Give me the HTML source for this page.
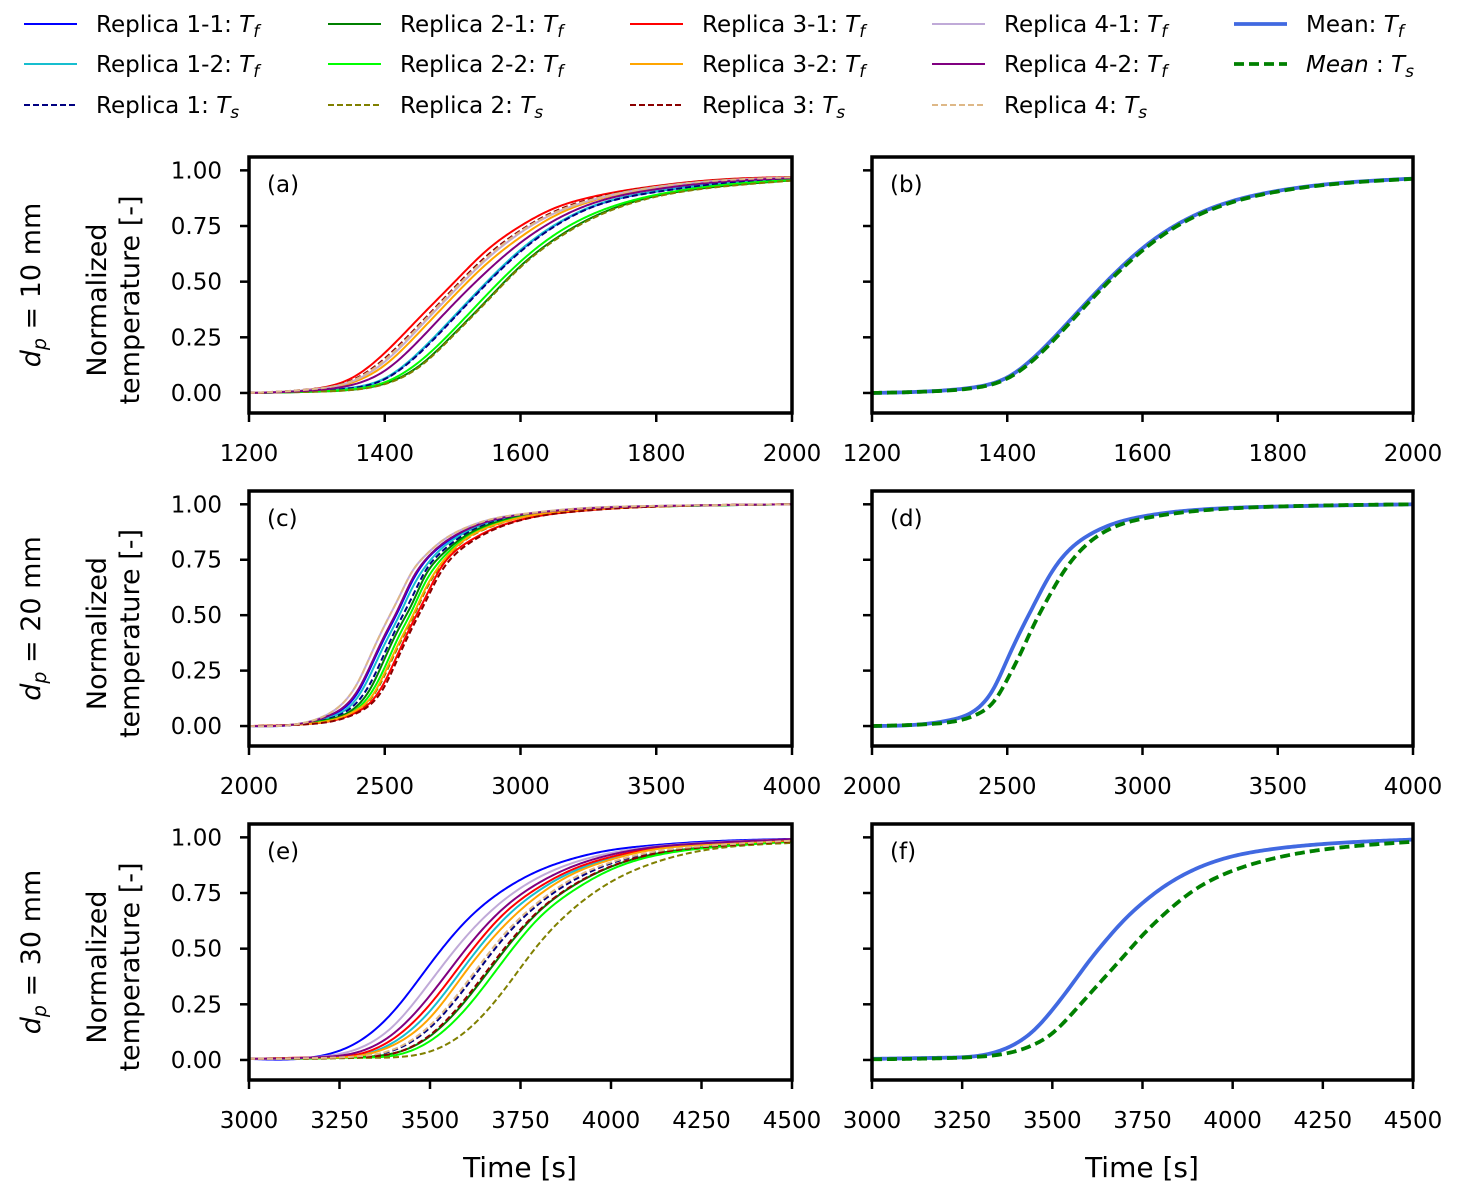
<!DOCTYPE html>
<html><head><meta charset="utf-8"><style>
body{margin:0;background:#fff}
svg{display:block;font-family:"DejaVu Sans","Liberation Sans",sans-serif}
</style></head><body>
<svg id="fig" width="1457" height="1196" viewBox="0 0 1457 1196" xmlns="http://www.w3.org/2000/svg"></svg>
<script>
// ---------- DATA ----------
const tGridA = [1200,1300,1350,1400,1450,1500,1550,1600,1650,1700,1800,1900,2000];
const a_r11 = [0,.009,.022,.064,.18,.335,.495,.64,.752,.83,.905,.943,.962];
const a_r12 = [0,.009,.023,.066,.182,.338,.498,.643,.754,.832,.906,.944,.962];
const a_r1s = [0,.009,.021,.062,.175,.33,.49,.635,.748,.828,.903,.942,.961];
const a_r21 = [0,.006,.014,.042,.12,.26,.415,.57,.69,.78,.885,.93,.955];
const a_r22 = [0,.007,.016,.048,.138,.28,.44,.59,.71,.795,.89,.935,.957];
const a_r2s = [0,.006,.013,.04,.115,.255,.41,.565,.685,.775,.882,.928,.954];
const a_r31 = [0,.02,.065,.18,.335,.49,.64,.75,.83,.877,.93,.96,.97];
const a_r32 = [0,.016,.045,.125,.27,.43,.58,.70,.795,.857,.922,.953,.967];
const a_r3s = [0,.02,.055,.155,.305,.465,.615,.73,.815,.868,.928,.958,.97];
const a_r41 = [0,.018,.05,.14,.29,.45,.60,.72,.807,.862,.925,.955,.968];
const a_r42 = [0,.013,.035,.10,.235,.395,.545,.675,.775,.845,.915,.95,.965];
const a_r4s = [0,.019,.052,.148,.298,.458,.607,.725,.81,.864,.926,.956,.969];
const b_meanTf = [0,.01,.025,.07,.19,.35,.51,.65,.755,.828,.908,.945,.963];
const b_meanTs = [0,.009,.022,.065,.18,.34,.50,.64,.748,.822,.905,.943,.962];

const tGridC = [2000,2200,2300,2400,2450,2500,2550,2600,2650,2700,2800,2900,3000,3200,3500,4000];
const c_r11 = [0,.012,.048,.15,.27,.40,.52,.65,.745,.805,.882,.928,.952,.978,.992,1];
const c_r12 = [0,.011,.04,.13,.24,.37,.49,.62,.72,.79,.875,.925,.95,.977,.991,1];
const c_r1s = [0,.01,.035,.11,.20,.33,.46,.58,.70,.775,.868,.92,.948,.976,.991,1];
const c_r21 = [0,.01,.031,.093,.175,.305,.435,.55,.68,.76,.86,.915,.945,.975,.99,1];
const c_r22 = [0,.009,.027,.08,.15,.265,.40,.52,.65,.74,.85,.908,.942,.973,.99,1];
const c_r2s = [0,.008,.024,.072,.125,.23,.36,.48,.61,.715,.842,.903,.94,.972,.99,1];
const c_r31 = [0,.008,.022,.065,.11,.20,.33,.46,.58,.70,.825,.89,.93,.968,.99,1];
const c_r32 = [0,.008,.025,.075,.13,.24,.37,.49,.62,.72,.845,.905,.94,.972,.99,1];
const c_r3s = [0,.007,.02,.06,.10,.18,.31,.44,.56,.68,.815,.885,.928,.967,.99,1];
const c_r41 = [0,.014,.06,.195,.325,.455,.575,.695,.77,.825,.895,.935,.955,.98,.993,1];
const c_r42 = [0,.013,.05,.16,.28,.41,.53,.66,.75,.81,.885,.93,.953,.978,.992,1];
const c_r4s = [0,.014,.06,.195,.325,.455,.575,.695,.77,.825,.895,.935,.955,.98,.993,1];
const d_meanTf = [0,.01,.03,.09,.17,.30,.43,.55,.665,.755,.86,.915,.945,.975,.99,1];
const d_meanTs = [0,.008,.02,.06,.11,.21,.33,.46,.575,.68,.825,.90,.935,.97,.99,1];

const tGridE = [3000,3200,3300,3400,3500,3600,3700,3800,3900,4000,4100,4250,4500];
const e_r11 = [.005,.019,.08,.22,.43,.625,.76,.85,.907,.943,.962,.98,.993];
const e_r12 = [.005,.01,.019,.08,.22,.43,.625,.76,.85,.905,.942,.968,.988];
const e_r1s = [.005,.009,.015,.044,.145,.33,.54,.70,.81,.883,.927,.958,.984];
const e_r21 = [.005,.008,.013,.03,.107,.27,.48,.665,.787,.868,.918,.954,.982];
const e_r22 = [.005,.007,.011,.02,.085,.232,.44,.636,.765,.855,.91,.95,.98];
const e_r2s = [.005,.006,.009,.012,.038,.13,.305,.52,.685,.80,.875,.94,.975];
const e_r31 = [.005,.012,.025,.097,.25,.46,.65,.775,.86,.912,.946,.97,.985];
const e_r32 = [.005,.01,.018,.068,.19,.40,.595,.74,.84,.90,.94,.966,.987];
const e_r3s = [.005,.008,.013,.03,.112,.28,.49,.67,.79,.87,.92,.955,.982];
const e_r41 = [.005,.015,.05,.155,.35,.555,.713,.82,.888,.93,.955,.975,.992];
const e_r42 = [.005,.013,.035,.12,.29,.50,.677,.795,.873,.922,.952,.973,.992];
const e_r4s = [.005,.009,.016,.048,.155,.345,.555,.71,.82,.888,.93,.96,.985];
const tGridF = [3000,3200,3300,3400,3450,3500,3550,3600,3650,3700,3750,3800,3900,4000,4100,4250,4500];
const f_meanTf = [.005,.01,.02,.075,.135,.225,.33,.44,.54,.63,.705,.768,.86,.915,.945,.97,.99];
const f_meanTs = [.003,.008,.015,.04,.07,.12,.2,.29,.38,.47,.56,.64,.77,.85,.90,.945,.98];

const xTicksA = [1200,1400,1600,1800,2000];
const xTicksC = [2000,2500,3000,3500,4000];
const xTicksE = [3000,3250,3500,3750,4000,4250,4500];
const yTicks = [0,0.25,0.5,0.75,1.0];
const yTickLabels = ["0.00","0.25","0.50","0.75","1.00"];
const rowLabels = ["10","20","30"];
const panelLetters = ["(a)","(b)","(c)","(d)","(e)","(f)"];

// ---------- STYLES ----------
const ST = {
 r11:{c:"#0000ff",d:null,w:2,name:"Replica 1-1"}, r12:{c:"#17becf",d:null,w:2,name:"Replica 1-2"}, r1s:{c:"#000080",d:"6,3",w:2,name:"Replica 1"},
 r21:{c:"#008000",d:null,w:2,name:"Replica 2-1"}, r22:{c:"#00ff00",d:null,w:2,name:"Replica 2-2"}, r2s:{c:"#808000",d:"6,3",w:2,name:"Replica 2"},
 r31:{c:"#ff0000",d:null,w:2,name:"Replica 3-1"}, r32:{c:"#ffa500",d:null,w:2,name:"Replica 3-2"}, r3s:{c:"#8b0000",d:"6,3",w:2,name:"Replica 3"},
 r41:{c:"#c0aad8",d:null,w:2,name:"Replica 4-1"}, r42:{c:"#800080",d:null,w:2,name:"Replica 4-2"}, r4s:{c:"#deb887",d:"6,3",w:2,name:"Replica 4"},
 mTf:{c:"#4169e1",d:null,w:3.8,name:"Mean"}, mTs:{c:"#008000",d:"10,5",w:3.8,name:"Mean"}
};
const NS="http://www.w3.org/2000/svg";
const svg=document.getElementById('fig');
function el(tag,attrs,parent){const e=document.createElementNS(NS,tag);for(const k in attrs)e.setAttribute(k,attrs[k]);(parent||svg).appendChild(e);return e;}

// natural cubic spline
function spline(xs,ys){
 const n=xs.length,h=[],al=[],l=[1],mu=[0],z=[0],c=new Array(n).fill(0),b=[],d=[];
 for(let i=0;i<n-1;i++)h.push(xs[i+1]-xs[i]);
 for(let i=1;i<n-1;i++)al[i]=3/h[i]*(ys[i+1]-ys[i])-3/h[i-1]*(ys[i]-ys[i-1]);
 for(let i=1;i<n-1;i++){l[i]=2*(xs[i+1]-xs[i-1])-h[i-1]*mu[i-1];mu[i]=h[i]/l[i];z[i]=(al[i]-h[i-1]*z[i-1])/l[i];}
 l[n-1]=1;z[n-1]=0;
 for(let j=n-2;j>=0;j--){c[j]=z[j]-mu[j]*c[j+1];b[j]=(ys[j+1]-ys[j])/h[j]-h[j]*(c[j+1]+2*c[j])/3;d[j]=(c[j+1]-c[j])/(3*h[j]);}
 return function(x){let i=0;while(i<n-2&&x>xs[i+1])i++;const dx=x-xs[i];return ys[i]+b[i]*dx+c[i]*dx*dx+d[i]*dx*dx*dx;};
}

const colX=[[249,792],[872,1413]];
const rowY=[[157,413],[491,746],[824,1080]];
const xDom=[[1200,2000],[2000,4000],[3000,4500]];
const yDom=[-0.09,1.06];

const panels=[
 {r:0,c:0,t:tGridA,series:[["r11",a_r11],["r12",a_r12],["r1s",a_r1s],["r21",a_r21],["r22",a_r22],["r2s",a_r2s],["r31",a_r31],["r32",a_r32],["r3s",a_r3s],["r41",a_r41],["r42",a_r42],["r4s",a_r4s]],ticks:xTicksA},
 {r:0,c:1,t:tGridA,series:[["mTf",b_meanTf],["mTs",b_meanTs]],ticks:xTicksA},
 {r:1,c:0,t:tGridC,series:[["r11",c_r11],["r12",c_r12],["r1s",c_r1s],["r21",c_r21],["r22",c_r22],["r2s",c_r2s],["r31",c_r31],["r32",c_r32],["r3s",c_r3s],["r41",c_r41],["r42",c_r42],["r4s",c_r4s]],ticks:xTicksC},
 {r:1,c:1,t:tGridC,series:[["mTf",d_meanTf],["mTs",d_meanTs]],ticks:xTicksC},
 {r:2,c:0,t:tGridE,series:[["r11",e_r11],["r12",e_r12],["r1s",e_r1s],["r21",e_r21],["r22",e_r22],["r2s",e_r2s],["r31",e_r31],["r32",e_r32],["r3s",e_r3s],["r41",e_r41],["r42",e_r42],["r4s",e_r4s]],ticks:xTicksE},
 {r:2,c:1,t:tGridF,series:[["mTf",f_meanTf],["mTs",f_meanTs]],ticks:xTicksE}
];

panels.forEach((p,pi)=>{
 const [x0,x1]=colX[p.c],[y0,y1]=rowY[p.r],[d0,d1]=xDom[p.r];
 const sx=v=>x0+(v-d0)/(d1-d0)*(x1-x0);
 const sy=v=>y0+(yDom[1]-v)/(yDom[1]-yDom[0])*(y1-y0);
 const g=el('g',{});
 
 
 const cid='clip'+pi;
 const cp=el('clipPath',{id:cid},g);el('rect',{x:x0,y:y0,width:x1-x0,height:y1-y0},cp);
 const lines=el('g',{'clip-path':'url(#'+cid+')'},g);
 p.series.forEach(([key,vals])=>{
  const s=ST[key];const f=spline(p.t,vals);let dstr='';
  for(let px=x0;px<=x1;px+=2){const tv=d0+(px-x0)/(x1-x0)*(d1-d0);dstr+=(dstr?'L':'M')+px.toFixed(1)+','+sy(f(tv)).toFixed(2);}
  const path=el('path',{d:dstr,fill:'none',stroke:s.c,'stroke-width':s.w,'stroke-linejoin':'round'},lines);
  if(s.d)path.setAttribute('stroke-dasharray',s.d);
  
  
 });
 el('rect',{x:x0,y:y0,width:x1-x0,height:y1-y0,fill:'none',stroke:'#000','stroke-width':3.5},g);
 yTicks.forEach((v,i)=>{
  el('line',{x1:x0-9,x2:x0,y1:sy(v),y2:sy(v),stroke:'#000','stroke-width':2.5},g);
  if(p.c===0){const t=el('text',{x:x0-27,y:sy(v)+8,'text-anchor':'end','font-size':23},g);t.textContent=yTickLabels[i];
   }
 });
 p.ticks.forEach(v=>{
  el('line',{x1:sx(v),x2:sx(v),y1:y1,y2:y1+9,stroke:'#000','stroke-width':2.5},g);
  const t=el('text',{x:sx(v),y:y1+48,'text-anchor':'middle','font-size':23},g);t.textContent=String(v);
  
 });
 const lt=el('text',{x:x0+18,y:y0+35,'font-size':23},g);lt.textContent=panelLetters[pi];
 
});

// row labels and y axis titles
rowY.forEach(([y0,y1],i)=>{
 const cy=(y0+y1)/2;
 const rl=el('text',{transform:`translate(40,${cy}) rotate(-90)`,'text-anchor':'middle','font-size':27});
 rl.innerHTML='<tspan font-style="italic">d</tspan><tspan font-style="italic" font-size="19" dy="6">p</tspan><tspan dy="-6"> = '+rowLabels[i]+' mm</tspan>';
 
 const yl=el('text',{transform:`translate(106,${cy+15}) rotate(-90)`,'text-anchor':'middle','font-size':27});yl.textContent='Normalized';
 
 const yl2=el('text',{transform:`translate(139,${cy+15}) rotate(-90)`,'text-anchor':'middle','font-size':27});yl2.textContent='temperature [-]';
 
});
[520,1142].forEach(x=>{const t=el('text',{x:x,y:1177,'text-anchor':'middle','font-size':28});t.textContent='Time [s]';
 });

// legend
const legend=[
 [["r11","Tf"],["r12","Tf"],["r1s","Ts"]],
 [["r21","Tf"],["r22","Tf"],["r2s","Ts"]],
 [["r31","Tf"],["r32","Tf"],["r3s","Ts"]],
 [["r41","Tf"],["r42","Tf"],["r4s","Ts"]],
 [["mTf","Tf"],["mTs","Ts"]]
];
const legX=[24,328,630,932,1234],legY=[24,64,105];
legend.forEach((col,ci)=>col.forEach(([key,sub],ri)=>{
 const s=ST[key];const x=legX[ci],y=legY[ri];
 const g=el('g',{});
 
 const ln=el('line',{x1:x,x2:x+53,y1:y,y2:y,stroke:s.c,'stroke-width':s.w},g);
 if(s.d)ln.setAttribute('stroke-dasharray',s.d);
 const t=el('text',{x:x+72,y:y+8,'font-size':23},g);
 const nm=(key==='mTs')?'<tspan font-style="italic">Mean</tspan> ':s.name;
 t.innerHTML=nm+': <tspan font-style="italic">T</tspan><tspan font-style="italic" font-size="17" dy="5">'+(sub==='Tf'?'f':'s')+'</tspan>';
}));
</script>
</body></html>
